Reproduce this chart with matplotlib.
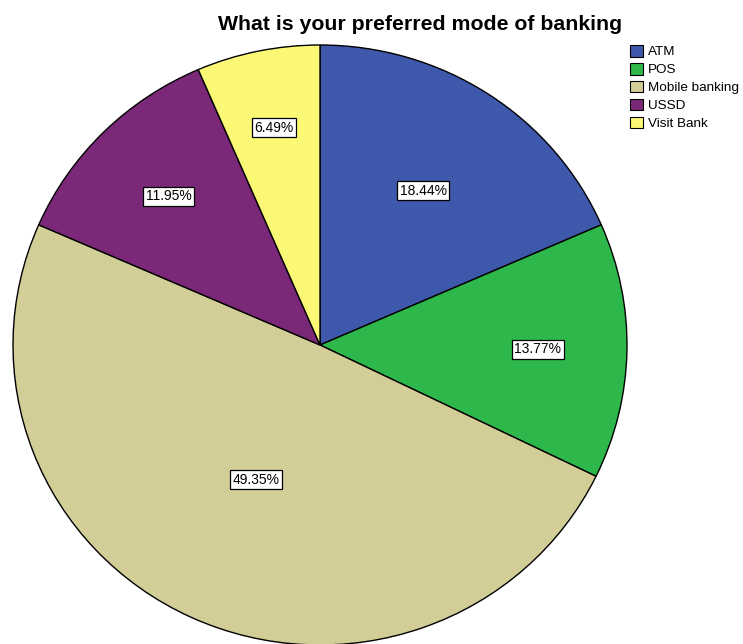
import numpy as np
import matplotlib.pyplot as plt
from matplotlib.patches import Patch

plt.rcParams['font.family'] = ['Liberation Sans', 'DejaVu Sans']

modes = ["ATM", "POS", "Mobile banking", "USSD", "Visit Bank"]
percent = [18.44, 13.77, 49.35, 11.95, 6.49]
colors = ["#3E58AC", "#2EB74A", "#D3CE98", "#7B2878", "#FBF875"]

# how far out each percent label sits (fraction of radius)
label_r = [0.615, 0.71, 0.495, 0.70, 0.74]

fig = plt.figure(figsize=(7.43, 6.44), dpi=100)
ax = fig.add_axes([0, 0, 1, 1])

wedges, _ = ax.pie(percent, colors=colors, startangle=90, counterclock=False,
                   wedgeprops=dict(edgecolor="black", linewidth=1.0))
ax.set_aspect("auto")

# centre at (320, 345) px, radius ~307 px across, ~300 px down
rx, ry = 307.0, 300.0
ax.set_xlim(-320 / rx, (743 - 320) / rx)
ax.set_ylim(-(644 - 345) / ry, 345 / ry)
ax.axis("off")

for w, p, r in zip(wedges, percent, label_r):
    mid = np.deg2rad((w.theta1 + w.theta2) / 2)
    ax.text(r * np.cos(mid), r * np.sin(mid), "%.2f%%" % p,
            ha="center", va="center", fontsize=10,
            bbox=dict(boxstyle="square,pad=0.18", fc="white", ec="black", lw=0.9))

fig.text(420 / 743, 1 - 25 / 644, "What is your preferred mode of banking",
         ha="center", va="center", fontsize=15.3, fontweight="bold")

handles = [Patch(facecolor=c, edgecolor="black", linewidth=0.8) for c in colors]
fig.legend(handles, modes, loc="upper left", bbox_to_anchor=(630 / 743, 1 - 45 / 644),
           frameon=False, fontsize=9.7, handlelength=0.95, handleheight=0.95,
           handletextpad=0.35, labelspacing=0.33, borderpad=0, borderaxespad=0)

plt.savefig("out.png", dpi=100)
